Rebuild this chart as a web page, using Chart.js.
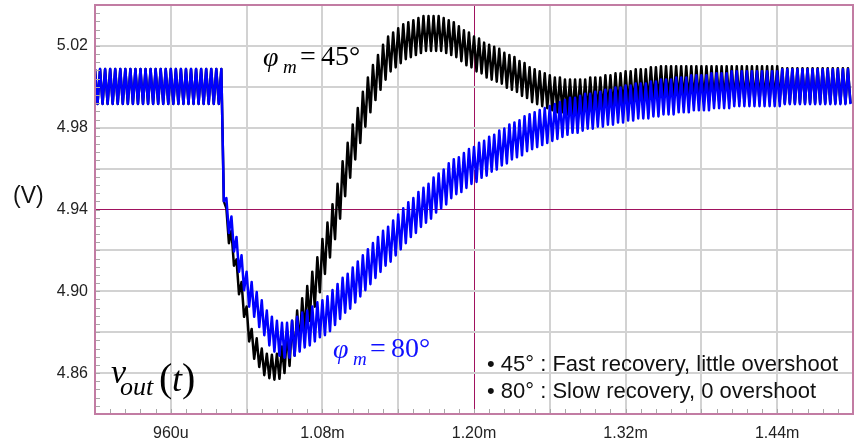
<!DOCTYPE html>
<html>
<head>
<meta charset="utf-8">
<script src="https://cdn.jsdelivr.net/npm/chart.js@4.4.1/dist/chart.umd.min.js"></script>
<style>
html, body { margin: 0; padding: 0; background: #fff; }
#wrap { width: 854px; height: 442px; }
</style>
</head>
<body>
<div id="wrap"><canvas id="myChart"></canvas></div>
<script>
// time base in microseconds, one sample every half ripple period (peak, valley, peak, ...)
const tStart = 900
const tStep = 2

// vout for phase margin 45 deg (black), alternating ripple peak / valley values
const vout45 = [
    5.0087,4.9916, 5.0087,4.9916, 5.0087,4.9916, 5.0087,4.9916, 5.0087,4.9916,
    5.0087,4.9916, 5.0087,4.9916, 5.0087,4.9916, 5.0087,4.9916, 5.0087,4.9916,
    5.0087,4.9916, 5.0087,4.9916, 5.0087,4.9916, 5.0087,4.9916, 5.0087,4.9916,
    5.0087,4.9916, 5.0087,4.9916, 5.0087,4.9916, 5.0087,4.9916, 5.0087,4.9916,
    5.0087,4.9916, 5.0087,4.9916, 5.0087,4.9916, 5.0087,4.9916, 5.0087,4.9916,
    5.0087,4.9440,
    4.9406,4.9235, 4.9296,4.9125, 4.9156,4.8985, 4.9046,4.8875, 4.8926,4.8755,
    4.8816,4.8670, 4.8770,4.8630, 4.8720,4.8590, 4.8695,4.8575, 4.8690,4.8568,
    4.8695,4.8572, 4.8730,4.8600, 4.8806,4.8635, 4.8856,4.8685, 4.8906,4.8735,
    4.8966,4.8795, 4.9026,4.8855, 4.9096,4.8925, 4.9166,4.8995, 4.9256,4.9085,
    4.9336,4.9165, 4.9426,4.9255, 4.9526,4.9355, 4.9636,4.9465, 4.9726,4.9555,
    4.9816,4.9645, 4.9896,4.9725, 4.9976,4.9805, 5.0046,4.9875, 5.0106,4.9935,
    5.0156,4.9985, 5.0206,5.0035, 5.0246,5.0075, 5.0266,5.0095, 5.0286,5.0115,
    5.0306,5.0135, 5.0316,5.0145, 5.0326,5.0155, 5.0336,5.0165, 5.0346,5.0175,
    5.0346,5.0175, 5.0346,5.0175, 5.0346,5.0175, 5.0336,5.0165, 5.0326,5.0155,
    5.0316,5.0145, 5.0296,5.0125, 5.0276,5.0105, 5.0266,5.0095, 5.0246,5.0075,
    5.0236,5.0065, 5.0216,5.0045, 5.0206,5.0035, 5.0196,5.0025, 5.0186,5.0015,
    5.0166,4.9995, 5.0156,4.9985, 5.0146,4.9975, 5.0126,4.9955, 5.0116,4.9945,
    5.0096,4.9925, 5.0086,4.9915, 5.0076,4.9905, 5.0066,4.9895, 5.0056,4.9885,
    5.0046,4.9875, 5.0046,4.9875, 5.0036,4.9865, 5.0036,4.9865, 5.0036,4.9865,
    5.0036,4.9865, 5.0036,4.9865, 5.0046,4.9875, 5.0046,4.9875, 5.0046,4.9875,
    5.0056,4.9885, 5.0056,4.9885, 5.0066,4.9895, 5.0066,4.9895, 5.0076,4.9905,
    5.0076,4.9905, 5.0086,4.9915, 5.0086,4.9915, 5.0086,4.9915, 5.0096,4.9925,
    5.0096,4.9925, 5.0101,4.9930, 5.0101,4.9930, 5.0101,4.9930, 5.0101,4.9930,
    5.0101,4.9930, 5.0101,4.9930, 5.0101,4.9930, 5.0101,4.9930, 5.0101,4.9930,
    5.0101,4.9930, 5.0101,4.9930, 5.0101,4.9930, 5.0101,4.9930, 5.0101,4.9930,
    5.0101,4.9930, 5.0101,4.9930, 5.0101,4.9930, 5.0101,4.9930, 5.0101,4.9930,
    5.0101,4.9930, 5.0101,4.9930, 5.0101,4.9930, 5.0101,4.9930, 5.0101,4.9930,
    5.0091,4.9920, 5.0091,4.9920, 5.0091,4.9920, 5.0091,4.9920, 5.0091,4.9920,
    5.0091,4.9920, 5.0091,4.9920, 5.0091,4.9920, 5.0091,4.9920, 5.0091,4.9920,
    5.0091,4.9920, 5.0091,4.9920, 5.0091,4.9920, 5.0091,4.9920
]

// vout for phase margin 80 deg (blue)
const vout80 = [
    5.0087,4.9916, 5.0087,4.9916, 5.0087,4.9916, 5.0087,4.9916, 5.0087,4.9916,
    5.0087,4.9916, 5.0087,4.9916, 5.0087,4.9916, 5.0087,4.9916, 5.0087,4.9916,
    5.0087,4.9916, 5.0087,4.9916, 5.0087,4.9916, 5.0087,4.9916, 5.0087,4.9916,
    5.0087,4.9916, 5.0087,4.9916, 5.0087,4.9916, 5.0087,4.9916, 5.0087,4.9916,
    5.0087,4.9916, 5.0087,4.9916, 5.0087,4.9916, 5.0087,4.9916, 5.0087,4.9916,
    5.0087,4.9440,
    4.9456,4.9285, 4.9366,4.9195, 4.9266,4.9095, 4.9176,4.9005, 4.9096,4.8925,
    4.9046,4.8875, 4.8996,4.8825, 4.8956,4.8785, 4.8906,4.8735, 4.8876,4.8705,
    4.8856,4.8685, 4.8846,4.8675, 4.8846,4.8675, 4.8856,4.8685, 4.8876,4.8705,
    4.8896,4.8725, 4.8906,4.8735, 4.8926,4.8755, 4.8946,4.8775, 4.8956,4.8785,
    4.8976,4.8805, 4.9006,4.8835, 4.9036,4.8865, 4.9066,4.8895, 4.9086,4.8915,
    4.9116,4.8945, 4.9146,4.8975, 4.9176,4.9005, 4.9206,4.9035, 4.9236,4.9065,
    4.9266,4.9095, 4.9296,4.9125, 4.9316,4.9145, 4.9346,4.9175, 4.9376,4.9205,
    4.9406,4.9235, 4.9436,4.9265, 4.9456,4.9285, 4.9486,4.9315, 4.9506,4.9335,
    4.9526,4.9355, 4.9556,4.9385, 4.9576,4.9405, 4.9596,4.9425, 4.9626,4.9455,
    4.9646,4.9475, 4.9656,4.9485, 4.9676,4.9505, 4.9696,4.9525, 4.9706,4.9535,
    4.9726,4.9555, 4.9736,4.9565, 4.9756,4.9585, 4.9766,4.9595, 4.9786,4.9615,
    4.9796,4.9625, 4.9816,4.9645, 4.9826,4.9655, 4.9836,4.9665, 4.9856,4.9685,
    4.9866,4.9695, 4.9876,4.9705, 4.9886,4.9715, 4.9896,4.9725, 4.9906,4.9735,
    4.9916,4.9745, 4.9926,4.9755, 4.9936,4.9765, 4.9946,4.9775, 4.9946,4.9775,
    4.9956,4.9785, 4.9966,4.9795, 4.9966,4.9795, 4.9976,4.9805, 4.9976,4.9805,
    4.9986,4.9815, 4.9986,4.9815, 4.9996,4.9825, 4.9996,4.9825, 5.0006,4.9835,
    5.0006,4.9835, 5.0016,4.9845, 5.0016,4.9845, 5.0016,4.9845, 5.0026,4.9855,
    5.0026,4.9855, 5.0036,4.9865, 5.0036,4.9865, 5.0036,4.9865, 5.0046,4.9875,
    5.0046,4.9875, 5.0046,4.9875, 5.0056,4.9885, 5.0056,4.9885, 5.0056,4.9885,
    5.0056,4.9885, 5.0066,4.9895, 5.0066,4.9895, 5.0066,4.9895, 5.0066,4.9895,
    5.0076,4.9905, 5.0076,4.9905, 5.0076,4.9905, 5.0076,4.9905, 5.0076,4.9905,
    5.0076,4.9905, 5.0076,4.9905, 5.0076,4.9905, 5.0076,4.9905, 5.0076,4.9905,
    5.0086,4.9915, 5.0086,4.9915, 5.0086,4.9915, 5.0086,4.9915, 5.0086,4.9915,
    5.0086,4.9915, 5.0086,4.9915, 5.0086,4.9915, 5.0086,4.9915, 5.0086,4.9915,
    5.0086,4.9915, 5.0086,4.9915, 5.0086,4.9915, 5.0086,4.9915
]

// axis ticks
const xTickVals = [960, 1080, 1200, 1320, 1440]
const xTickLabels = ['960u', '1.08m', '1.20m', '1.32m', '1.44m']
const yTickVals = [5.02, 4.98, 4.94, 4.90, 4.86]
const yTickLabels = ['5.02', '4.98', '4.94', '4.90', '4.86']

const toPoints = (arr) => arr.map((v, i) => ({ x: tStart + i * tStep, y: v }))

const gridGray = '#d2d2d2'
const markerColor = '#a0125f'
const frameColor = '#c27ca3'

function near(a, b) { return Math.abs(a - b) < 1e-6 }

const extras = {
    id: 'extras',
    afterDatasetsDraw(chart) {
        const ctx = chart.ctx
        ctx.save()
        ctx.textAlign = 'left'
        ctx.textBaseline = 'alphabetic'

        // phi_m = 45 deg
        ctx.fillStyle = '#000'
        ctx.font = 'italic 28px "Liberation Serif"'
        ctx.fillText('\u03C6', 263, 66)
        ctx.font = 'italic 19px "Liberation Serif"'
        ctx.fillText('m', 283, 73)
        ctx.font = '28px "Liberation Serif"'
        ctx.fillText('=', 300, 65)
        ctx.fillText('45\u00B0', 321, 65)

        // phi_m = 80 deg
        ctx.fillStyle = '#1010ff'
        ctx.font = 'italic 28px "Liberation Serif"'
        ctx.fillText('\u03C6', 333, 358)
        ctx.font = 'italic 19px "Liberation Serif"'
        ctx.fillText('m', 353, 365)
        ctx.font = '28px "Liberation Serif"'
        ctx.fillText('=', 370, 357)
        ctx.fillText('80\u00B0', 391, 357)

        // v_out(t)
        ctx.fillStyle = '#000'
        ctx.font = 'italic 34px "Liberation Serif"'
        ctx.fillText('v', 111, 383)
        ctx.font = 'italic 26px "Liberation Serif"'
        ctx.fillText('out', 120, 395)
        ctx.font = '40px "Liberation Serif"'
        ctx.fillText('(', 159, 391)
        ctx.font = 'italic 36px "Liberation Serif"'
        ctx.fillText('t', 172, 391)
        ctx.font = '40px "Liberation Serif"'
        ctx.fillText(')', 182, 391)

        // notes
        ctx.fillStyle = '#111'
        ctx.font = '22px "Liberation Sans"'
        ctx.fillText('\u2022 45\u00B0 : Fast recovery, little overshoot', 487, 371)
        ctx.fillText('\u2022 80\u00B0 : Slow recovery, 0 overshoot', 487, 398)
        ctx.restore()
    },
    afterDraw(chart) {
        const ctx = chart.ctx
        const a = chart.chartArea
        const xs = chart.scales.x
        const ys = chart.scales.y
        ctx.save()

        // small inward ticks on left and bottom border
        ctx.strokeStyle = '#a8a8a8'
        ctx.lineWidth = 1
        ctx.beginPath()
        for (let v = 4.84; v <= 5.0401; v += 0.004) {
            const y = Math.round(ys.getPixelForValue(v)) + 0.5
            ctx.moveTo(a.left, y)
            ctx.lineTo(a.left + 5, y)
        }
        for (let t = 900; t <= 1500; t += 12) {
            const x = Math.round(xs.getPixelForValue(t)) + 0.5
            ctx.moveTo(x, a.bottom)
            ctx.lineTo(x, a.bottom - 5)
        }
        ctx.stroke()

        // frame
        ctx.strokeStyle = frameColor
        ctx.lineWidth = 2
        ctx.strokeRect(a.left, a.top, a.right - a.left, a.bottom - a.top)

        // y unit
        ctx.fillStyle = '#111'
        ctx.font = '23px "Liberation Sans"'
        ctx.textAlign = 'left'
        ctx.fillText('(V)', 13, 203)
        ctx.restore()
    }
}

function createChart() {
    const data = {
        datasets: [{
            label: 'phi_m = 80',
            data: toPoints(vout80),
            borderColor: '#0000ff',
            borderWidth: 2.5,
            borderJoinStyle: 'round',
            pointRadius: 0,
            tension: 0,
            order: 0
        }, {
            label: 'phi_m = 45',
            data: toPoints(vout45),
            borderColor: '#000000',
            borderWidth: 2.5,
            borderJoinStyle: 'round',
            pointRadius: 0,
            tension: 0,
            order: 1
        }]
    }

    const config = {
        type: 'line',
        data: data,
        options: {
            responsive: true,
            maintainAspectRatio: false,
            animation: false,
            layout: { padding: { top: 5, right: 1, left: 0, bottom: 0 } },
            plugins: { legend: { display: false }, tooltip: { enabled: false } },
            scales: {
                x: {
                    type: 'linear',
                    min: 900,
                    max: 1500,
                    border: { display: false },
                    grid: {
                        drawTicks: false,
                        color: (c) => {
                            const v = c.tick.value
                            if (v === 900 || v === 1500) return 'rgba(0,0,0,0)'
                            return v === 1200 ? markerColor : gridGray
                        },
                        lineWidth: (c) => c.tick.value === 1200 ? 1 : 2
                    },
                    ticks: {
                        stepSize: 60,
                        autoSkip: false,
                        maxRotation: 0,
                        padding: 10,
                        color: '#222',
                        font: { family: 'Liberation Sans', size: 16 },
                        callback: (v) => {
                            const i = xTickVals.indexOf(v)
                            return i >= 0 ? xTickLabels[i] : ''
                        }
                    },
                    afterFit: (s) => {
                        s.height = 28
                        s.paddingLeft = 0
                        s.paddingRight = 0
                    }
                },
                y: {
                    type: 'linear',
                    min: 4.84,
                    max: 5.04,
                    border: { display: false },
                    grid: {
                        drawTicks: false,
                        color: (c) => {
                            const v = c.tick.value
                            if (near(v, 4.84) || near(v, 5.04)) return 'rgba(0,0,0,0)'
                            return near(v, 4.94) ? markerColor : gridGray
                        },
                        lineWidth: (c) => near(c.tick.value, 4.94) ? 1 : 2
                    },
                    ticks: {
                        stepSize: 0.02,
                        autoSkip: false,
                        padding: 7,
                        color: '#222',
                        font: { family: 'Liberation Sans', size: 16 },
                        callback: (v) => {
                            for (let i = 0; i < yTickVals.length; i++) {
                                if (near(v, yTickVals[i])) return yTickLabels[i]
                            }
                            return ''
                        }
                    },
                    afterFit: (s) => {
                        s.width = 95
                        s.paddingTop = 0
                        s.paddingBottom = 0
                    }
                }
            }
        },
        plugins: [extras]
    }

    return new Chart(document.getElementById('myChart'), config)
}

var chart

window.addEventListener('DOMContentLoaded', () => {
    chart = createChart()
})
</script>
</body>
</html>
